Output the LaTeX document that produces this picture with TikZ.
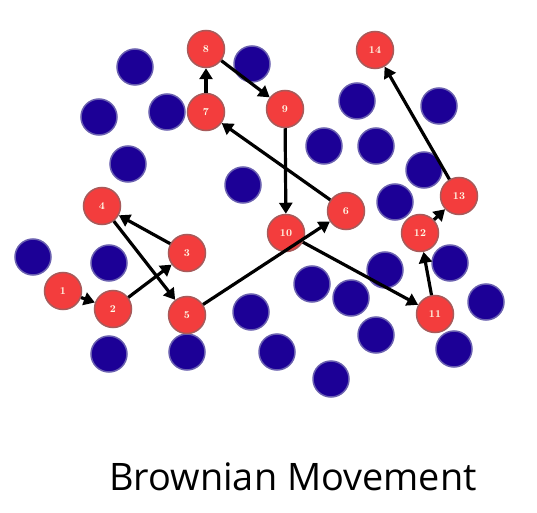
\documentclass[tikz,border=0pt]{standalone}
\usepackage{fontspec}
\newfontfamily\titlefont{Open Sans}
\usetikzlibrary{arrows.meta}
\definecolor{redfill}{HTML}{F33D3D}
\definecolor{redline}{HTML}{A85A5A}
\definecolor{bluefill}{HTML}{1C0096}
\definecolor{blueline}{HTML}{6A60B0}
\begin{document}
\begin{tikzpicture}[x=1bp,y=-1bp,
  redp/.style={circle,fill=redfill,draw=redline,line width=1.5bp,minimum size=37bp,inner sep=0pt,text=white!92!yellow,font=\bfseries\fontsize{10.5}{10.5}\selectfont},
  bluep/.style={circle,fill=bluefill,draw=blueline,line width=1.5bp,minimum size=36bp,inner sep=0pt},
  move/.style={-{Triangle[width=13bp,length=11bp]},line width=3.2bp,black}]
\useasboundingbox (0,0) rectangle (537,513);
% blue particles
\foreach \x/\y [count=\i] in {135/67,252/64,99/117,167/112,128/164,243/185,357/101,439/106,324/146,376/146,424/170,395/202,33/257,109/263,385/270,450/263,312/284,351/298,486/302,251/312,376/335,454/349,109/354,187/352,277/352,331/379}
  \node[bluep] (b\i) at (\x,\y) {};
% red particle path
\node[redp] (r1) at (63,291) {1};
\node[redp] (r2) at (113,309) {2};
\node[redp] (r3) at (187,253) {3};
\node[redp] (r4) at (102,206) {4};
\node[redp] (r5) at (187,315) {5};
\node[redp] (r6) at (346,211) {6};
\node[redp] (r7) at (206,112) {7};
\node[redp] (r8) at (206,49) {8};
\node[redp] (r9) at (285,109) {9};
\node[redp] (r10) at (286,233) {10};
\node[redp] (r11) at (435,314) {11};
\node[redp] (r12) at (420,233) {12};
\node[redp] (r13) at (459,196) {13};
\node[redp] (r14) at (375,50) {14};
\foreach \a/\b in {1/2,2/3,3/4,4/5,5/6,6/7,7/8,8/9,9/10,10/11,11/12,12/13,13/14}
  \draw[move] (r\a) -- (r\b);
\node[font=\titlefont\fontsize{38}{38}\selectfont,anchor=base] (title) at (293,490) {Brownian Movement};
\end{tikzpicture}
\end{document}
